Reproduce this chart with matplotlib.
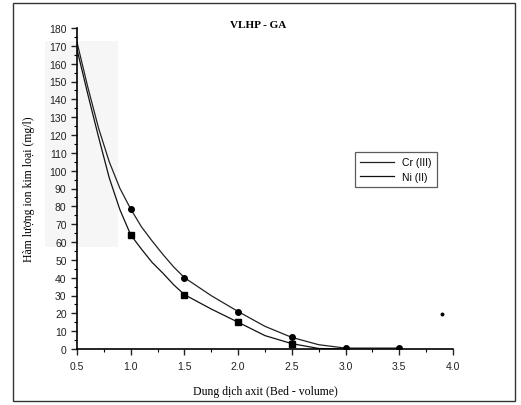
import matplotlib
matplotlib.use("Agg")
import matplotlib.pyplot as plt
from matplotlib.patches import Rectangle
from matplotlib.ticker import MultipleLocator

# Curve samples
cr_curve_x = [0.5, 0.6, 0.7, 0.8, 0.9, 1.0, 1.1, 1.2, 1.3, 1.4, 1.5, 1.75, 2.0, 2.25, 2.5, 2.75, 3.0, 3.5]
cr_curve_y = [172, 147, 124, 105, 90, 78.5, 68.5, 60.5, 53, 46, 40, 29.9, 21, 12.7, 6.5, 2.4, 0.5, 0.5]
ni_curve_x = [0.5, 0.6, 0.7, 0.8, 0.9, 1.0, 1.1, 1.2, 1.3, 1.4, 1.5, 1.75, 2.0, 2.25, 2.5, 2.75, 3.0]
ni_curve_y = [168, 143, 119, 96, 78, 64, 56, 48.5, 42.5, 36, 30.5, 22.4, 15, 7.5, 3, 0.3, 0]

# Measured points (markers)
cr_x = [1.0, 1.5, 2.0, 2.5, 3.0, 3.5]
cr_y = [78.5, 40, 21, 6.5, 0.5, 0.5]
ni_x = [1.0, 1.5, 2.0, 2.5]
ni_y = [64, 30.5, 15, 3]
stray_x = [3.9]
stray_y = [19.6]

x_ticks = [0.5, 1.0, 1.5, 2.0, 2.5, 3.0, 3.5, 4.0]
x_ticklabels = ["0.5", "1.0", "1.5", "2.0", "2.5", "3.0", "3.5", "4.0"]
y_ticks = list(range(0, 181, 10))

W, H = 521, 406
fig = plt.figure(figsize=(W / 100, H / 100), dpi=100)

# outer frame
fig.patches.append(Rectangle((13 / W, 1 - 402 / H), (515 - 13) / W, (402 - 4) / H,
                             transform=fig.transFigure, fill=False, lw=1.0,
                             edgecolor="#333333", zorder=0))

ax = fig.add_axes([77 / W, 1 - 350 / H, (453 - 77) / W, (350 - 29) / H])
ax.patch.set_alpha(0)

# faint scan shading behind y tick labels
ax.add_patch(Rectangle((45 / W, 1 - 248 / H), (118 - 45) / W, (248 - 42) / H,
                       transform=fig.transFigure, fill=True, lw=0,
                       facecolor="#f6f6f6", zorder=-10, clip_on=False))

ax.plot(cr_curve_x, cr_curve_y, color="#222222", lw=0.9, label="Cr (III)")
ax.plot(ni_curve_x, ni_curve_y, color="#111111", lw=0.9, label="Ni (II)")
ax.plot(cr_x, cr_y, "o", color="black", ms=4, ls="none")
ax.plot(ni_x, ni_y, "s", color="black", ms=4, ls="none")
ax.plot(stray_x, stray_y, "o", color="black", ms=1.8, ls="none")

ax.set_xlim(0.5, 4.0)
ax.set_ylim(0, 180)
ax.set_xticks(x_ticks)
ax.set_xticklabels(x_ticklabels)
ax.set_yticks(y_ticks)
ax.xaxis.set_minor_locator(MultipleLocator(0.25))
ax.yaxis.set_minor_locator(MultipleLocator(5))
ax.spines["top"].set_visible(False)
ax.spines["right"].set_visible(False)
ax.spines["left"].set_linewidth(1.2)
ax.spines["bottom"].set_linewidth(1.2)
ax.tick_params(axis="both", which="major", direction="out", length=4, width=1,
               labelsize=7.5, colors="#222222")
ax.tick_params(axis="x", which="major", pad=5)
ax.tick_params(axis="both", which="minor", direction="out", length=2, width=0.8)
for lab in ax.get_xticklabels() + ax.get_yticklabels():
    lab.set_fontfamily("Liberation Sans")

ax.set_xlabel("Dung dịch axit (Bed - volume)", fontfamily="Liberation Serif",
              fontsize=8.5, labelpad=10)
ax.set_ylabel("Hàm lượng ion kim loại (mg/l)", fontfamily="Liberation Serif",
              fontsize=8.5, labelpad=10)
fig.text(258 / W, 1 - 25 / H, "VLHP - GA", ha="center", va="center",
         fontfamily="Liberation Serif", fontsize=8, fontweight="bold")

leg = ax.legend(loc="upper left", bbox_to_anchor=((350 - 77) / 376, (350 - 148) / 321),
                frameon=True, fancybox=False, edgecolor="#333333",
                handlelength=3.2, borderpad=0.5, labelspacing=0.4,
                prop={"family": "Liberation Sans", "size": 7.5})
leg.get_frame().set_linewidth(0.9)

fig.savefig("out.png", dpi=100)
